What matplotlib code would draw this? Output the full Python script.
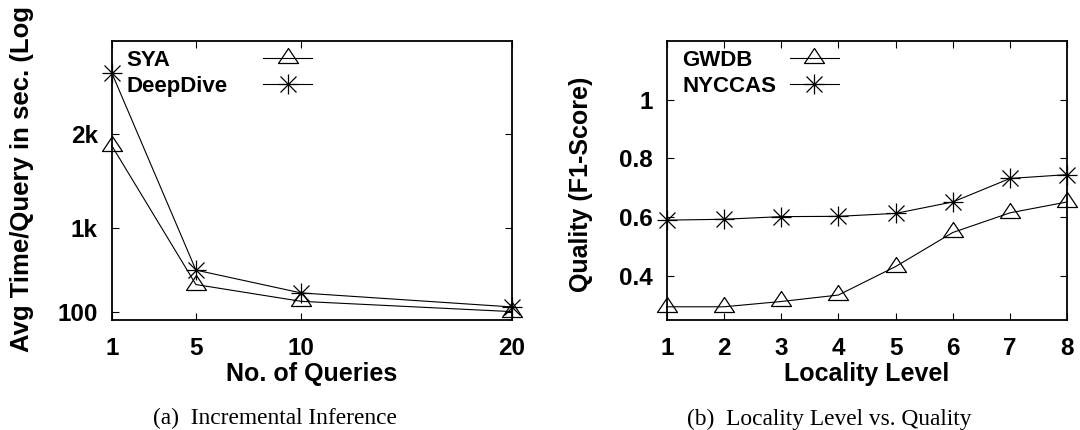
import numpy as np
import matplotlib
matplotlib.use("Agg")
import matplotlib.pyplot as plt
from matplotlib.path import Path
from matplotlib.lines import Line2D

# ---- data ----
num_queries = [1, 5, 10, 20]
sya_time = [1880, 390, 210, 100]
deepdive_time = [2660, 545, 300, 150]
time_ticks = [100, 1000, 2000]
time_tick_labels = ["100", "1k", "2k"]

locality_level = [1, 2, 3, 4, 5, 6, 7, 8]
gwdb_quality = [0.295, 0.295, 0.313, 0.335, 0.432, 0.548, 0.615, 0.652]
nyccas_quality = [0.590, 0.593, 0.602, 0.603, 0.613, 0.652, 0.732, 0.745]
quality_ticks = [0.4, 0.6, 0.8, 1.0]
quality_tick_labels = ["0.4", "0.6", "0.8", "1"]

plt.rcParams["font.family"] = ["Liberation Sans", "DejaVu Sans"]
plt.rcParams["font.weight"] = "bold"

# gnuplot style markers: flat open triangle and 8-arm asterisk
tri = Path([(-1, -0.5), (1, -0.5), (0, 1.0), (-1, -0.5)],
           [Path.MOVETO, Path.LINETO, Path.LINETO, Path.CLOSEPOLY])
d = 0.8
star = Path([(-1, 0), (1, 0), (0, -1), (0, 1), (-d, -d), (d, d), (-d, d), (d, -d)],
            [Path.MOVETO, Path.LINETO] * 4)

line_kw = dict(color="black", lw=0.8, mfc="none", mec="black", mew=0.9, ms=14.4,
               clip_on=False)

fig = plt.figure(figsize=(10.8, 4.3), dpi=100)
ax1 = fig.add_axes([111.7 / 1080, 1 - 320 / 430, 400 / 1080, 279 / 430])
ax2 = fig.add_axes([666.7 / 1080, 1 - 320 / 430, 400.6 / 1080, 279 / 430])


def style_axes(ax):
    for s in ax.spines.values():
        s.set_linewidth(1.3)
    ax.tick_params(direction="in", length=5, width=0.8, top=True, right=True,
                   labelsize=17.5)
    ax.tick_params(axis="x", pad=12)
    ax.tick_params(axis="y", pad=10)


def add_legend(ax, lines, names, x, gap):
    # text column on the left, sample column on the right (gnuplot key look)
    blanks = [Line2D([], [], linestyle="none") for _ in names]
    leg = ax.legend(blanks + lines, names + [""] * len(lines), ncol=2,
                    loc="upper left", bbox_to_anchor=(x, 0.967),
                    frameon=False, borderpad=0, borderaxespad=0,
                    handlelength=2.2, handletextpad=0.3, columnspacing=gap,
                    labelspacing=0.21, prop=dict(size=16, weight="bold"))
    return leg


# (a) incremental inference
l1, = ax1.plot(num_queries, sya_time, marker=tri, **line_kw)
l2, = ax1.plot(num_queries, deepdive_time, marker=star, **line_kw)
ax1.set_xlim(1, 20)
ax1.set_ylim(10, 3000)
ax1.set_xticks(num_queries)
ax1.set_yticks(time_ticks)
ax1.set_yticklabels(time_tick_labels)
style_axes(ax1)
ax1.set_xlabel("No. of Queries", fontsize=18, weight="bold", labelpad=2)
ax1.set_ylabel("Avg Time/Query in sec. (Log", fontsize=18.5,
               weight="bold", ha="left")
ax1.yaxis.set_label_coords(-0.193, -0.115)
add_legend(ax1, [l1, l2], ["SYA", "DeepDive"], -0.102, 1.6)

# (b) locality level vs. quality
g1, = ax2.plot(locality_level, gwdb_quality, marker=tri, **line_kw)
g2, = ax2.plot(locality_level, nyccas_quality, marker=star, **line_kw)
ax2.set_xlim(1, 8)
ax2.set_ylim(0.25, 1.2)
ax2.set_xticks(locality_level)
ax2.set_yticks(quality_ticks)
ax2.set_yticklabels(quality_tick_labels)
style_axes(ax2)
ax2.set_xlabel("Locality Level", fontsize=18, weight="bold", labelpad=2)
ax2.set_ylabel("Quality (F1-Score)", fontsize=18, weight="bold")
ax2.yaxis.set_label_coords(-0.184, 0.487)
add_legend(ax2, [g1, g2], ["GWDB", "NYCCAS"], -0.099, 0.6)

# sub-figure captions
fig.text(153 / 1080, 1 - 424.5 / 430, "(a)  Incremental Inference",
         family="Liberation Serif", weight="normal", fontsize=16.8,
         ha="left", va="baseline")
fig.text(687 / 1080, 1 - 424.5 / 430, "(b)  Locality Level vs. Quality",
         family="Liberation Serif", weight="normal", fontsize=16.8,
         ha="left", va="baseline")

fig.savefig("out.png", dpi=100)
